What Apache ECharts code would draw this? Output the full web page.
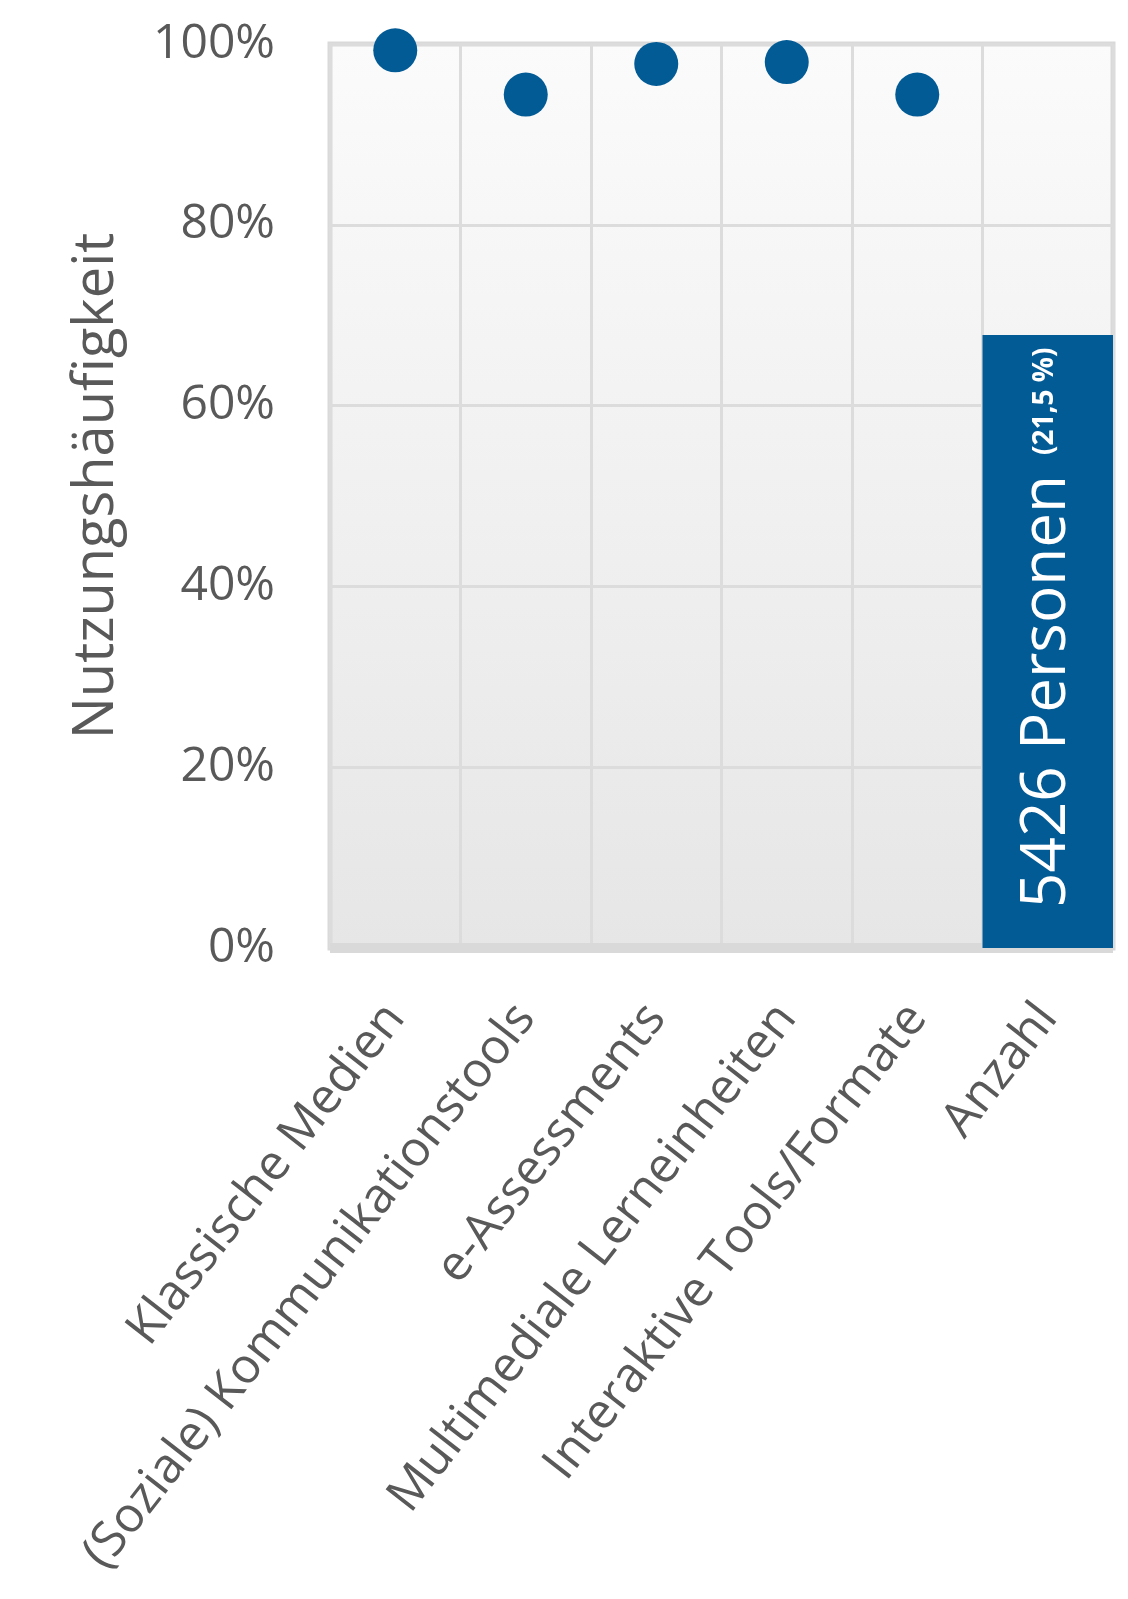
<!DOCTYPE html>
<html>
<head>
<meta charset="utf-8">
<script src="https://cdn.jsdelivr.net/npm/echarts@6/dist/echarts.min.js"></script>
<style>
html,body{margin:0;padding:0;background:#fff;}
#chart{width:1128px;height:1599px;}
</style>
</head>
<body>
<div id="chart"></div>
<script>
const categories = ['Klassische Medien','(Soziale) Kommunikationstools','e-Assessments','Multimediale Lerneinheiten','Interaktive Tools/Formate','Anzahl'];
const usageShare = [99.3, 94.4, 97.8, 98.0, 94.4, null];
const anzahlBar = [null, null, null, null, null, 67.8];
const anzahlLabel = '5426 Personen';
const anzahlPct = '(21,5 %)';
const yTicks = [0, 20, 40, 60, 80, 100];

const FONT = '"Open Sans", sans-serif';
const TXT = '#595959';
const BLUE = '#035b96';

const chart = echarts.init(document.getElementById('chart'));
chart.setOption({
  animation: false,
  backgroundColor: '#ffffff',
  grid: {
    left: 330, right: 15, top: 44, bottom: 651,
    show: true,
    backgroundColor: new echarts.graphic.LinearGradient(0, 0, 0, 1, [
      {offset: 0, color: '#fbfbfb'},
      {offset: 1, color: '#e6e6e6'}
    ]),
    borderColor: '#d9d9d9',
    borderWidth: 5
  },
  xAxis: {
    type: 'category',
    data: categories,
    axisLine: {show: true, lineStyle: {color: '#d9d9d9', width: 10, cap: 'butt'}},
    axisTick: {show: false},
    splitLine: {show: true, interval: 0, lineStyle: {color: '#dcdcdc', width: 3}},
    axisLabel: {
      interval: 0,
      rotate: 52,
      margin: 62,
      fontSize: 49,
      fontFamily: FONT,
      color: TXT
    }
  },
  yAxis: {
    type: 'value',
    min: 0, max: 100, interval: 20,
    name: 'Nutzungshäufigkeit',
    nameLocation: 'middle',
    nameGap: 205,
    nameTextStyle: {fontSize: 56, fontFamily: FONT, color: TXT, padding: [0, 0, 0, 20]},
    axisLine: {show: false},
    axisTick: {show: false},
    splitLine: {show: true, lineStyle: {color: '#dcdcdc', width: 3}},
    axisLabel: {
      margin: 55,
      fontSize: 48,
      fontFamily: FONT,
      color: TXT,
      formatter: v => yTicks.includes(v) ? v + '%' : ''
    }
  },
  series: [
    {
      type: 'bar',
      data: anzahlBar,
      barWidth: '100%',
      itemStyle: {color: BLUE},
      label: {
        show: true,
        position: 'insideBottom',
        rotate: 90,
        align: 'left',
        verticalAlign: 'middle',
        distance: 40,
        formatter: '{big|' + anzahlLabel + '}{small|' + anzahlPct + '}',
        rich: {
          big: {fontSize: 62, color: '#ffffff', fontFamily: FONT},
          small: {fontSize: 28, color: '#ffffff', fontFamily: FONT, fontWeight: 'bold', padding: [0, 0, 6, 20]}
        }
      },
      z: 2
    },
    {
      type: 'scatter',
      data: usageShare,
      symbol: 'circle',
      symbolSize: 44,
      itemStyle: {color: BLUE, opacity: 1},
      z: 3
    }
  ]
});
</script>
</body>
</html>
